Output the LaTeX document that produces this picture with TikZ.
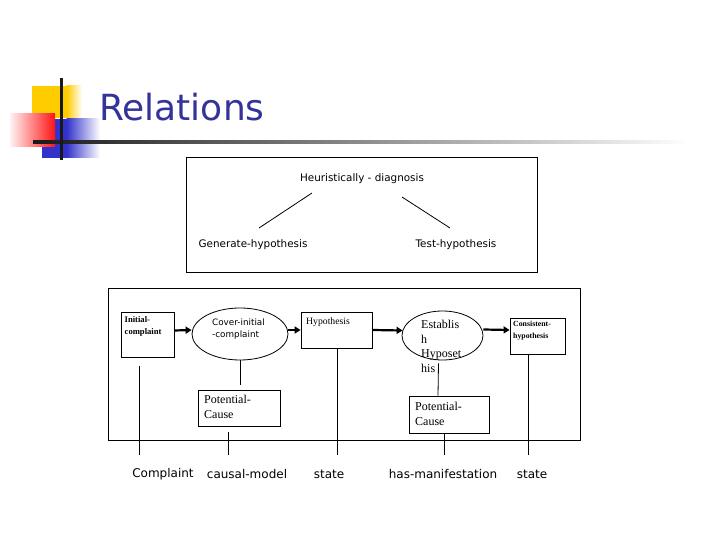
\documentclass[tikz,border=0pt]{standalone}
\usepackage{fontspec}
\setmainfont{Liberation Serif}
\newfontfamily\dvs{DejaVu Sans}
\usetikzlibrary{arrows.meta,shapes.geometric,calc}
\definecolor{titleblue}{RGB}{51,51,153}
\definecolor{logoyellow}{RGB}{255,204,0}
\definecolor{logoblue}{RGB}{51,51,204}
\definecolor{logored}{RGB}{255,20,20}
\tikzset{
  frame/.style={draw, line width=0.8pt, inner sep=0pt},
  rbox/.style={draw, line width=0.8pt, inner sep=0pt},
  oval/.style={draw, ellipse, line width=0.8pt, inner sep=0pt},
  txt/.style={inner sep=0pt, align=left},
  conn/.style={line width=0.8pt},
  arr/.style={line width=2.2pt, -{Triangle[length=6pt,width=7pt]}},
  sanslbl/.style={inner sep=0pt, font=\dvs\fontsize{12}{14}\selectfont},
  topl/.style={inner sep=0pt, font=\dvs\fontsize{10.4}{12}\selectfont},
}
\begin{document}
\begin{tikzpicture}[x=1pt,y=-1pt]
\useasboundingbox (0,0) rectangle (720,540);
% logo
\fill[logoyellow] (32,86) rectangle (67,118);
\shade[left color=logoyellow, right color=white] (66.5,86) rectangle (82,118);
\fill[logoblue] (42,119) rectangle (67,158);
\shade[left color=logoblue, right color=white] (66.5,119) rectangle (100,158);
\shade[left color=red!5, right color=logored] (10,114) rectangle (55,147);
\shade[left color=black!90, right color=white] (33,140.5) rectangle (690,143.5);
\fill[black!90] (59.5,78) rectangle (62.5,160);
\node[anchor=base west, inner sep=0pt, text=titleblue, font=\dvs\fontsize{36}{40}\selectfont] (title) at (99,121) {Relations};

% top frame
\node[frame, minimum width=351pt, minimum height=115pt] (topframe) at (361.5,214.5) {};
\node[topl] (heur) at (362,179) {Heuristically - diagnosis};
\node[topl] (gen) at (253,245) {Generate-hypothesis};
\node[topl] (test) at (456,245) {Test-hypothesis};
\draw[conn] ($(heur)+(-50,14)$) -- ($(gen)+(6,-17)$);
\draw[conn] ($(heur)+(40,18)$) -- ($(test)+(-6,-17)$);

% bottom frame
\node[frame, minimum width=472pt, minimum height=152pt] (botframe) at (344,364) {};

% boxes
\node[rbox, minimum width=53pt, minimum height=45pt] (ic) at (147.5,334.5) {};
\node[txt, anchor=north west, font=\bfseries\fontsize{8.6}{12}\selectfont] (ict) at (124.5,316.5) {Initial-\\complaint};
\node[oval, minimum width=96pt, minimum height=52pt] (cover) at (240,334) {};
\node[txt, anchor=north west, font=\dvs\fontsize{8.8}{12}\selectfont] (covert) at (212,319) {Cover-initial\\-complaint};
\node[rbox, minimum width=71pt, minimum height=36pt] (hyp) at (336.5,330) {};
\node[txt, anchor=north west, font=\fontsize{9.7}{11}\selectfont] (hypt) at (306,317.5) {Hypothesis};
\node[oval, minimum width=81pt, minimum height=49pt] (est) at (442.5,335.5) {};
\node[txt, anchor=north west, font=\fontsize{12}{14.5}\selectfont] (estt) at (421,320) {Establis\\h\\Hyposet\\his};
\node[rbox, minimum width=55pt, minimum height=36pt] (cons) at (537.5,336) {};
\node[txt, anchor=north west, font=\bfseries\fontsize{7.8}{12}\selectfont] (const) at (513,320.5) {Consistent-\\hypothesis};
\node[rbox, minimum width=82pt, minimum height=36pt] (pc1) at (239,408) {};
\node[txt, anchor=north west, font=\fontsize{12}{15}\selectfont] (pc1t) at (204,394.5) {Potential-\\Cause};
\node[rbox, minimum width=80pt, minimum height=37pt] (pc2) at (449,414.5) {};
\node[txt, anchor=north west, font=\fontsize{12}{15}\selectfont] (pc2t) at (415,401.5) {Potential-\\Cause};

% arrows
\draw[arr] ([yshift=4pt]ic.east) -- ([yshift=4pt]cover.west);
\draw[arr] ([yshift=4pt]cover.east) -- (hyp.west);
\draw[arr] (hyp.east) -- ([xshift=1pt,yshift=5pt]est.west);
\draw[arr] ([yshift=6pt]est.east) -- ([yshift=6pt]cons.west);

% vertical connectors
\draw[conn] (cover.south) -- ([yshift=5pt]pc1.north -| cover.south);
\draw[conn] ([xshift=-4pt,yshift=-3pt]est.south) -- ([xshift=-11pt]pc2.north);

\coordinate (e1) at (139,455);
\coordinate (e2) at (228,455);
\coordinate (e3) at (337,455);
\coordinate (e4) at (444,455);
\coordinate (e5) at (528,455);
\draw[conn] ([yshift=-9pt]ic.south -| e1) -- (e1);
\draw[conn] ([yshift=-6pt]pc1.south -| e2) -- (e2);
\draw[conn] (hyp.south -| e3) -- (e3);
\draw[conn] (pc2.south -| e4) -- (e4);
\draw[conn] (cons.south -| e5) -- (e5);

% labels
\node[sanslbl] (l1) at (163,474) {Complaint};
\node[sanslbl] (l2) at (247,474) {causal-model};
\node[sanslbl] (l3) at (329,474) {state};
\node[sanslbl] (l4) at (443,474) {has-manifestation};
\node[sanslbl] (l5) at (532,474) {state};
\end{tikzpicture}
\end{document}
